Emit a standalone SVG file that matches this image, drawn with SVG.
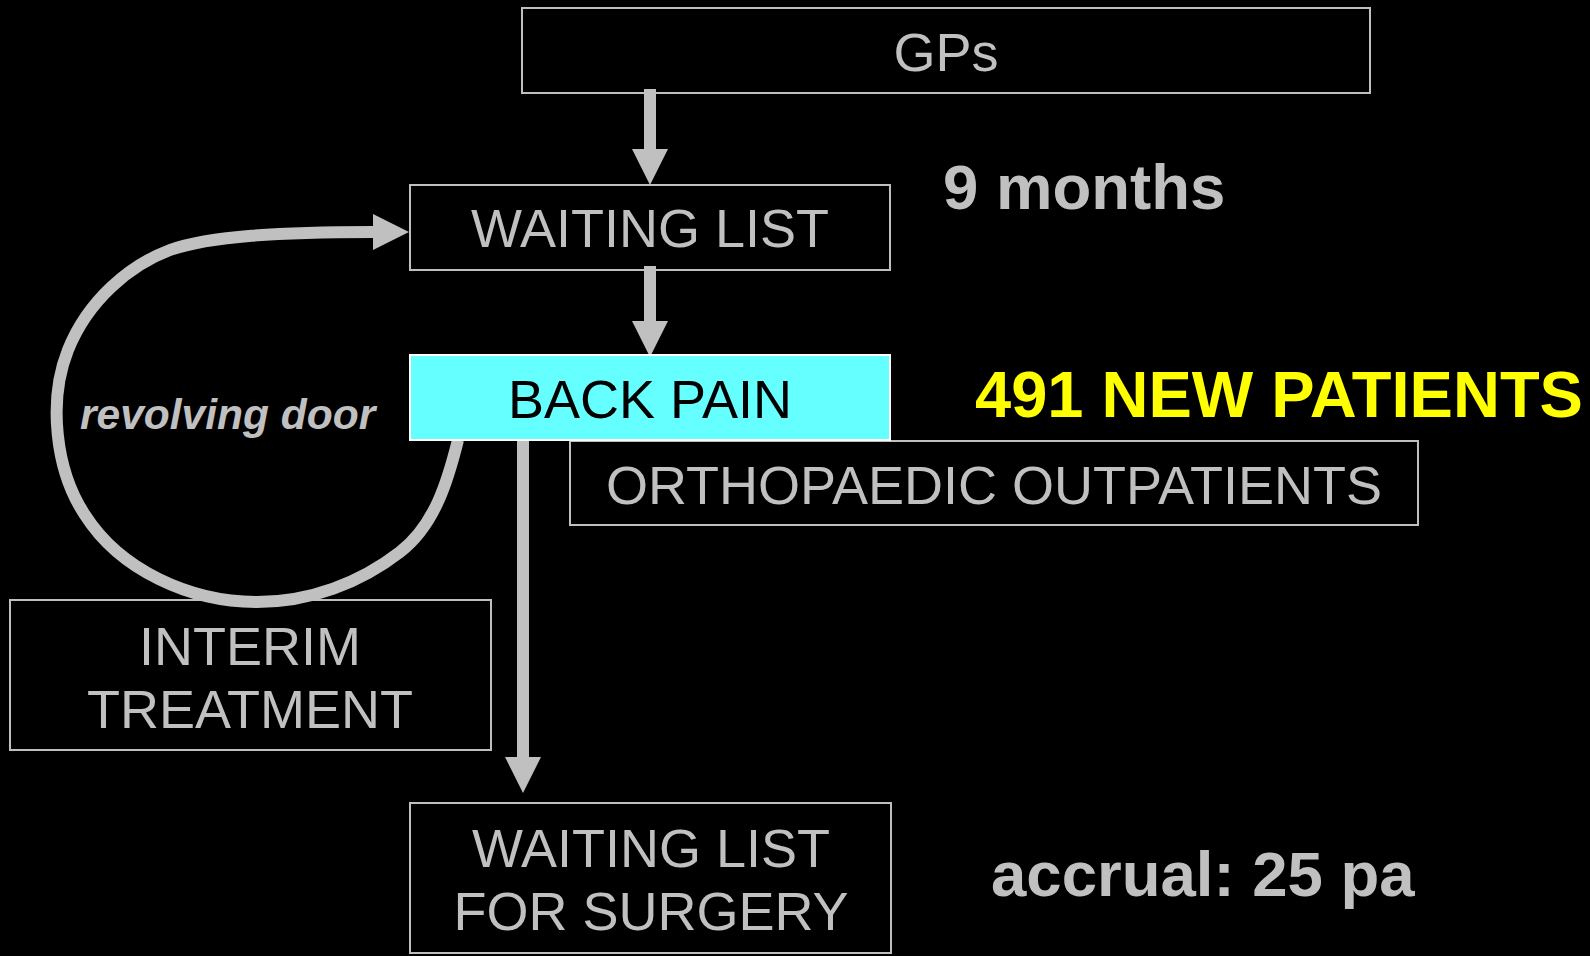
<svg xmlns="http://www.w3.org/2000/svg" width="1590" height="956" viewBox="0 0 1590 956">
<style>
.box{fill:#000;stroke:#BFBFBF;stroke-width:2}
.lbl{font-family:"Liberation Sans",Arial,sans-serif;font-size:54px;fill:#C0C0C0;text-anchor:middle}
.big{font-family:"Liberation Sans",Arial,sans-serif;font-size:63.5px;font-weight:bold;fill:#C0C0C0}
.conn{fill:none;stroke:#C0C0C0;stroke-width:12}
</style>
<defs>
<marker id="head" viewBox="0 0 36 36" markerWidth="36" markerHeight="36" markerUnits="userSpaceOnUse" refX="0" refY="18" orient="auto">
<path d="M0,0 L36,18 L0,36 Z" fill="#C0C0C0"/>
</marker>
</defs>
<rect width="1590" height="956" fill="#000"/>
<g id="gps">
<rect class="box" x="522" y="8" width="848" height="85"/>
<text class="lbl" x="946" y="71">GPs</text>
</g>
<g id="waiting-list">
<rect class="box" x="410" y="185" width="480" height="85"/>
<text class="lbl" x="650" y="247">WAITING LIST</text>
</g>
<g id="orthopaedic">
<rect class="box" x="570" y="441" width="848" height="84"/>
<text class="lbl" x="994" y="504">ORTHOPAEDIC OUTPATIENTS</text>
</g>
<g id="interim">
<rect class="box" x="10" y="600" width="481" height="150"/>
<text class="lbl" x="250" y="665">INTERIM</text>
<text class="lbl" x="250" y="728">TREATMENT</text>
</g>
<g id="surgery">
<rect class="box" x="410" y="803" width="481" height="150"/>
<text class="lbl" x="651" y="867">WAITING LIST</text>
<text class="lbl" x="651" y="930">FOR SURGERY</text>
</g>
<g id="connectors">
<path class="conn" d="M650,89 L650,149" marker-end="url(#head)"/>
<path class="conn" d="M650,266 L650,321" marker-end="url(#head)"/>
<path class="conn" d="M523,440 L523,757" marker-end="url(#head)"/>
<path class="conn" d="M458,440 C448,480 435,525 400,552 C360,583 310,602 257,602 C190,602 120,570 85,515 C55,470 48,400 68,350 C88,300 130,265 170,250 C210,236 280,232 373,232" marker-end="url(#head)"/>
</g>
<g id="back-pain">
<rect x="410" y="355" width="480" height="85" fill="#66FFFF" stroke="#FFFFFF" stroke-width="2"/>
<text class="lbl" x="650" y="418" style="fill:#000">BACK PAIN</text>
</g>
<g id="annotations">
<text class="big" x="943" y="209">9 months</text>
<text class="big" x="975" y="417" style="fill:#FFFF00;font-size:65px">491 NEW PATIENTS</text>
<text class="big" x="991" y="896">accrual: 25 pa</text>
<text x="80" y="429" style="font-family:'Liberation Sans',Arial,sans-serif;font-size:42.5px;font-weight:bold;font-style:italic;fill:#C0C0C0">revolving door</text>
</g>
</svg>
